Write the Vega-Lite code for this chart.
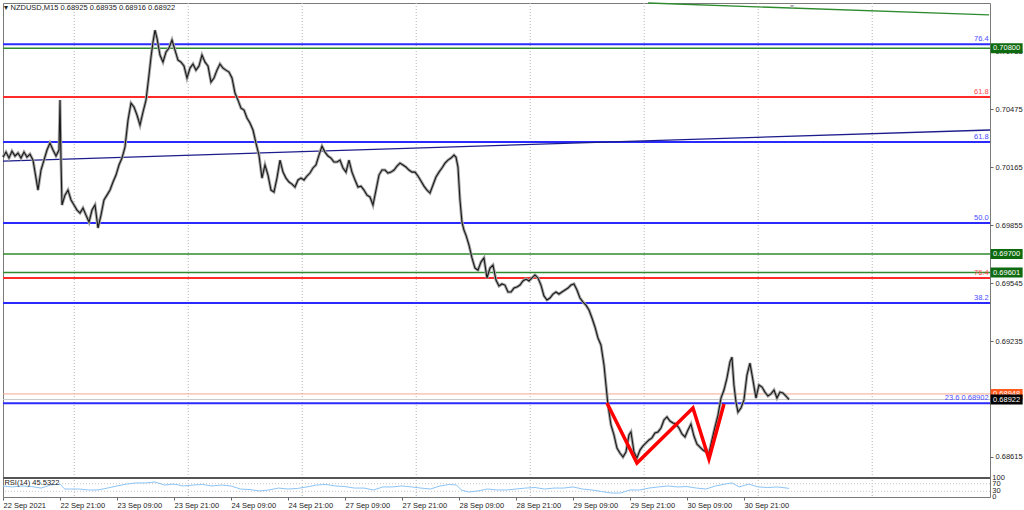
{
"$schema": "https://vega.github.io/schema/vega-lite/v6.json",
"autosize": {"type": "none"},
"width": 987, "height": 494,
"padding": {"left": 3, "top": 3, "right": 34, "bottom": 13},
"background": "white",
"config": {"view": {"stroke": "#7a7a7a", "strokeWidth": 1}, "font": "Liberation Sans",
  "axis": {"labelFont": "Liberation Sans", "labelFontSize": 7.5, "labelColor": "#222", "tickColor": "#666", "domain": false, "grid": false}},
"datasets": {
"grid": [{"h":15},{"h":39},{"h":63},{"h":87},{"h":111},{"h":135},{"h":159},{"h":183}],
"levels": [
 {"p":0.70822,"kind":"fib_blue","label":"76.4"},
 {"p":0.70539,"kind":"fib_red","label":"61.8"},
 {"p":0.70299,"kind":"fib_blue","label":"61.8"},
 {"p":0.69866,"kind":"fib_blue","label":"50.0"},
 {"p":0.69572,"kind":"fib_red","label":"76.4"},
 {"p":0.69438,"kind":"fib_blue","label":"38.2"},
 {"p":0.68902,"kind":"fib_blue","label":"23.6 0.68902"},
 {"p":0.70800,"kind":"green","label":""},
 {"p":0.69700,"kind":"green","label":""},
 {"p":0.69601,"kind":"green","label":""},
 {"p":0.68952,"kind":"ask","label":""},
 {"p":0.68922,"kind":"bid","label":""}
],
"boxes": [
 {"p":0.70800,"kind":"green","label":"0.70800"},
 {"p":0.69700,"kind":"green","label":"0.69700"},
 {"p":0.69601,"kind":"green","label":"0.69601"},
 {"p":0.68952,"kind":"ask","label":"0.68948"},
 {"p":0.68922,"kind":"bid","label":"0.68922"}
],
"notes": [
 {"id":"title","h":0.3,"p":0.71015,"label":"▾  NZDUSD,M15  0.68925 0.68935 0.68916 0.68922"},
 {"id":"marker","h":166.1,"p":0.71042,"label":"▼"}
],
"rsinote": [{"h":0.3,"r":76,"label":"RSI(14) 45.5322"}],
"rsilev": [{"r":30,"label":"30"},{"r":70,"label":"70"},{"r":0,"label":"0"},{"r":100,"label":"100"}],
"trend": [
 {"id":"blue","h":0,"p":0.70197},{"id":"blue","h":207.8,"p":0.70363},
 {"id":"green","h":135.8,"p":0.71042},{"id":"green","h":207.6,"p":0.70978}
],
"zig": [
 {"h":127.16,"p":0.68904},{"h":133.47,"p":0.68583},{"h":145.26,"p":0.68877},{"h":148.63,"p":0.68604},{"h":151.79,"p":0.68898}
],
"price": [
{"h":0,"p":0.70218},{"h":0.63,"p":0.70245},{"h":1.26,"p":0.70213},{"h":1.89,"p":0.7025},{"h":2.53,"p":0.70224},{"h":3.16,"p":0.7024},{"h":3.79,"p":0.70213},{"h":4.42,"p":0.70245},{"h":5.05,"p":0.70218},{"h":5.68,"p":0.70234},{"h":6.32,"p":0.70202},{"h":6.95,"p":0.70106},{"h":7.37,"p":0.70042},{"h":8.0,"p":0.70149},{"h":8.63,"p":0.70202},{"h":9.26,"p":0.70256},{"h":9.89,"p":0.70293},{"h":10.53,"p":0.70256},{"h":11.16,"p":0.70224},{"h":11.79,"p":0.70256},{"h":12.0,"p":0.70523},{"h":12.21,"p":0.70202},{"h":12.42,"p":0.69962},{"h":13.05,"p":0.70015},{"h":13.68,"p":0.70042},{"h":14.32,"p":0.69989},{"h":14.95,"p":0.69962},{"h":15.58,"p":0.69935},{"h":16.21,"p":0.69919},{"h":16.84,"p":0.69946},{"h":17.47,"p":0.69908},{"h":18.11,"p":0.69871},{"h":18.74,"p":0.69935},{"h":19.37,"p":0.69962},{"h":20.0,"p":0.69839},{"h":20.63,"p":0.69908},{"h":21.26,"p":0.69989},{"h":21.89,"p":0.70015},{"h":22.53,"p":0.70042},{"h":23.16,"p":0.70085},{"h":23.79,"p":0.70122},{"h":24.42,"p":0.70176},{"h":25.05,"p":0.70213},{"h":25.68,"p":0.70272},{"h":26.32,"p":0.70416},{"h":26.95,"p":0.70507},{"h":27.58,"p":0.70486},{"h":28.21,"p":0.70443},{"h":28.84,"p":0.70389},{"h":29.47,"p":0.70459},{"h":30.11,"p":0.70523},{"h":30.74,"p":0.70657},{"h":31.16,"p":0.70753},{"h":31.58,"p":0.70833},{"h":32.0,"p":0.70897},{"h":32.42,"p":0.70854},{"h":33.05,"p":0.70764},{"h":33.68,"p":0.70726},{"h":34.32,"p":0.7078},{"h":34.95,"p":0.70801},{"h":35.58,"p":0.70844},{"h":36.21,"p":0.7079},{"h":36.84,"p":0.70737},{"h":37.47,"p":0.70726},{"h":38.11,"p":0.70705},{"h":38.74,"p":0.70641},{"h":39.37,"p":0.70694},{"h":40.0,"p":0.70716},{"h":40.63,"p":0.70683},{"h":41.26,"p":0.70705},{"h":41.89,"p":0.70764},{"h":42.53,"p":0.70726},{"h":43.16,"p":0.70705},{"h":43.79,"p":0.70619},{"h":44.42,"p":0.70641},{"h":45.05,"p":0.70683},{"h":45.68,"p":0.70716},{"h":46.32,"p":0.70694},{"h":46.95,"p":0.70683},{"h":47.58,"p":0.70673},{"h":48.21,"p":0.70641},{"h":48.84,"p":0.70561},{"h":49.47,"p":0.70523},{"h":50.11,"p":0.7048},{"h":50.74,"p":0.7047},{"h":51.37,"p":0.70427},{"h":52.0,"p":0.704},{"h":52.63,"p":0.70363},{"h":53.26,"p":0.70293},{"h":53.89,"p":0.70229},{"h":54.53,"p":0.70106},{"h":55.16,"p":0.70176},{"h":55.79,"p":0.70122},{"h":56.42,"p":0.70042},{"h":57.05,"p":0.70031},{"h":57.68,"p":0.70106},{"h":58.32,"p":0.70202},{"h":58.95,"p":0.70138},{"h":59.58,"p":0.70106},{"h":60.21,"p":0.70085},{"h":60.84,"p":0.70074},{"h":61.47,"p":0.70058},{"h":62.11,"p":0.70096},{"h":62.74,"p":0.70106},{"h":63.37,"p":0.70096},{"h":64.0,"p":0.70117},{"h":64.63,"p":0.70133},{"h":65.26,"p":0.7016},{"h":65.89,"p":0.70176},{"h":66.53,"p":0.70229},{"h":67.16,"p":0.70277},{"h":67.79,"p":0.70245},{"h":68.42,"p":0.70224},{"h":69.05,"p":0.70213},{"h":69.68,"p":0.70192},{"h":70.32,"p":0.70192},{"h":70.95,"p":0.70202},{"h":71.58,"p":0.7016},{"h":72.21,"p":0.70138},{"h":72.84,"p":0.70202},{"h":73.47,"p":0.70138},{"h":74.11,"p":0.70096},{"h":74.74,"p":0.70058},{"h":75.37,"p":0.70063},{"h":76.0,"p":0.70042},{"h":76.63,"p":0.70015},{"h":77.26,"p":0.70005},{"h":77.89,"p":0.69962},{"h":78.53,"p":0.70042},{"h":79.16,"p":0.70122},{"h":79.79,"p":0.70149},{"h":80.42,"p":0.70149},{"h":81.05,"p":0.70133},{"h":81.68,"p":0.70138},{"h":82.32,"p":0.70149},{"h":82.95,"p":0.7017},{"h":83.58,"p":0.70186},{"h":84.21,"p":0.70176},{"h":84.84,"p":0.70165},{"h":85.47,"p":0.70149},{"h":86.11,"p":0.70138},{"h":86.74,"p":0.70138},{"h":87.37,"p":0.70117},{"h":88.0,"p":0.7009},{"h":88.63,"p":0.70063},{"h":89.26,"p":0.70042},{"h":89.89,"p":0.70026},{"h":90.53,"p":0.70069},{"h":91.16,"p":0.70112},{"h":91.79,"p":0.70138},{"h":92.42,"p":0.7016},{"h":93.05,"p":0.70186},{"h":93.68,"p":0.70202},{"h":94.32,"p":0.70213},{"h":94.95,"p":0.70229},{"h":95.37,"p":0.70218},{"h":95.79,"p":0.70165},{"h":96.21,"p":0.69989},{"h":96.63,"p":0.69871},{"h":97.05,"p":0.69828},{"h":97.47,"p":0.69801},{"h":98.11,"p":0.69748},{"h":98.74,"p":0.69679},{"h":99.37,"p":0.69625},{"h":100.0,"p":0.69614},{"h":100.63,"p":0.69657},{"h":101.26,"p":0.69679},{"h":101.89,"p":0.69572},{"h":102.53,"p":0.69625},{"h":103.16,"p":0.69641},{"h":103.79,"p":0.69561},{"h":104.42,"p":0.69529},{"h":105.05,"p":0.6954},{"h":105.68,"p":0.69534},{"h":106.32,"p":0.69497},{"h":106.95,"p":0.69497},{"h":107.58,"p":0.69518},{"h":108.21,"p":0.69524},{"h":108.84,"p":0.69534},{"h":109.47,"p":0.69556},{"h":110.11,"p":0.69566},{"h":110.74,"p":0.69556},{"h":111.37,"p":0.69572},{"h":112.0,"p":0.69588},{"h":112.63,"p":0.69572},{"h":113.26,"p":0.69534},{"h":113.89,"p":0.69476},{"h":114.53,"p":0.69454},{"h":115.16,"p":0.69465},{"h":115.79,"p":0.69486},{"h":116.42,"p":0.69497},{"h":117.05,"p":0.69486},{"h":117.68,"p":0.69497},{"h":118.32,"p":0.69508},{"h":118.95,"p":0.69518},{"h":119.58,"p":0.69534},{"h":120.21,"p":0.6954},{"h":120.84,"p":0.69508},{"h":121.47,"p":0.69465},{"h":122.11,"p":0.69443},{"h":122.74,"p":0.69427},{"h":123.37,"p":0.69401},{"h":124.0,"p":0.69358},{"h":124.63,"p":0.6931},{"h":125.26,"p":0.69251},{"h":125.89,"p":0.69214},{"h":126.53,"p":0.69107},{"h":126.95,"p":0.69},{"h":127.37,"p":0.68893},{"h":128.0,"p":0.68786},{"h":128.63,"p":0.68733},{"h":129.26,"p":0.68663},{"h":129.89,"p":0.68636},{"h":130.53,"p":0.68615},{"h":131.16,"p":0.68642},{"h":131.79,"p":0.68733},{"h":132.21,"p":0.68749},{"h":132.84,"p":0.68642},{"h":133.47,"p":0.6861},{"h":134.11,"p":0.68652},{"h":134.74,"p":0.68674},{"h":135.37,"p":0.6869},{"h":136.0,"p":0.68706},{"h":136.63,"p":0.68717},{"h":137.26,"p":0.68743},{"h":137.89,"p":0.68749},{"h":138.53,"p":0.6877},{"h":139.16,"p":0.68813},{"h":139.79,"p":0.68829},{"h":140.42,"p":0.68807},{"h":141.05,"p":0.68797},{"h":141.68,"p":0.68791},{"h":142.32,"p":0.6877},{"h":142.95,"p":0.68738},{"h":143.58,"p":0.68722},{"h":144.21,"p":0.68759},{"h":144.84,"p":0.68791},{"h":145.47,"p":0.68727},{"h":146.11,"p":0.68684},{"h":146.74,"p":0.68668},{"h":147.37,"p":0.68652},{"h":148.0,"p":0.68642},{"h":148.63,"p":0.68636},{"h":149.26,"p":0.68706},{"h":149.89,"p":0.68775},{"h":150.53,"p":0.68839},{"h":151.16,"p":0.6893},{"h":151.79,"p":0.68973},{"h":152.42,"p":0.69037},{"h":153.05,"p":0.69123},{"h":153.47,"p":0.69149},{"h":153.89,"p":0.69},{"h":154.32,"p":0.68909},{"h":154.74,"p":0.68855},{"h":155.37,"p":0.68877},{"h":156.0,"p":0.6892},{"h":156.63,"p":0.69053},{"h":157.26,"p":0.69117},{"h":157.89,"p":0.69026},{"h":158.53,"p":0.6893},{"h":159.16,"p":0.69},{"h":159.79,"p":0.68989},{"h":160.42,"p":0.68962},{"h":161.05,"p":0.68941},{"h":161.68,"p":0.68952},{"h":162.32,"p":0.68973},{"h":162.95,"p":0.6893},{"h":163.58,"p":0.68962},{"h":164.21,"p":0.68957},{"h":164.84,"p":0.68941},{"h":165.47,"p":0.68922}
],
"rsi": [
{"h":0,"r":58},{"h":2,"r":53},{"h":4,"r":58},{"h":6,"r":55},{"h":8,"r":47},{"h":10,"r":63},{"h":12,"r":68},{"h":13,"r":42},{"h":14,"r":42},{"h":16,"r":42},{"h":18,"r":37},{"h":20,"r":37},{"h":22,"r":47},{"h":24,"r":58},{"h":26,"r":68},{"h":28,"r":74},{"h":30,"r":74},{"h":32,"r":79},{"h":34,"r":63},{"h":36,"r":68},{"h":38,"r":58},{"h":40,"r":63},{"h":42,"r":66},{"h":44,"r":58},{"h":46,"r":63},{"h":48,"r":58},{"h":50,"r":42},{"h":52,"r":39},{"h":54,"r":32},{"h":56,"r":37},{"h":58,"r":47},{"h":60,"r":42},{"h":62,"r":45},{"h":64,"r":53},{"h":66,"r":63},{"h":68,"r":66},{"h":70,"r":58},{"h":72,"r":55},{"h":74,"r":47},{"h":76,"r":47},{"h":78,"r":37},{"h":80,"r":53},{"h":82,"r":53},{"h":84,"r":58},{"h":86,"r":53},{"h":88,"r":47},{"h":90,"r":42},{"h":92,"r":58},{"h":94,"r":66},{"h":95.5,"r":63},{"h":96.5,"r":37},{"h":98,"r":26},{"h":100,"r":32},{"h":102,"r":42},{"h":104,"r":37},{"h":106,"r":37},{"h":108,"r":42},{"h":110,"r":47},{"h":112,"r":50},{"h":114,"r":42},{"h":116,"r":47},{"h":118,"r":47},{"h":120,"r":53},{"h":122,"r":42},{"h":124,"r":37},{"h":126,"r":29},{"h":128,"r":21},{"h":130,"r":21},{"h":132,"r":37},{"h":134,"r":37},{"h":136,"r":47},{"h":138,"r":53},{"h":140,"r":58},{"h":142,"r":53},{"h":144,"r":55},{"h":146,"r":47},{"h":148,"r":42},{"h":150,"r":58},{"h":152,"r":68},{"h":153.5,"r":74},{"h":155,"r":53},{"h":157,"r":68},{"h":159,"r":53},{"h":161,"r":50},{"h":163,"r":53},{"h":165.5,"r":45.5}
]
},
"resolve": {"scale": {"y": "independent"}},
"layer": [
{
 "layer": [
  {"data": {"name": "grid"}, "mark": {"type": "rule", "color": "#b4b4b4", "strokeDash": [1, 2], "strokeWidth": 1},
   "encoding": {"x": {"field": "h", "type": "quantitative", "scale": {"domain": [0, 207.8], "nice": false, "zero": false},
      "axis": {"orient": "bottom", "values": [0, 12, 24, 36, 48, 60, 72, 84, 96, 108, 120, 132, 144, 156], "title": null,
        "labelExpr": "['22 Sep 2021','22 Sep 21:00','23 Sep 09:00','23 Sep 21:00','24 Sep 09:00','24 Sep 21:00','27 Sep 09:00','27 Sep 21:00','28 Sep 09:00','28 Sep 21:00','29 Sep 09:00','29 Sep 21:00','30 Sep 09:00','30 Sep 21:00'][round(datum.value / 12)]",
        "labelAlign": "left", "labelBound": false, "labelFlush": false, "labelOverlap": false, "tickSize": 3, "labelPadding": 1}}}},
  {"data": {"name": "levels"}, "transform": [{"filter": "datum.kind == 'green'"}],
   "mark": {"type": "rule", "color": "#2e8b2e", "strokeWidth": 1.5},
   "encoding": {"y": {"field": "p", "type": "quantitative", "title": null, "scale": {"domain": [0.68508, 0.71042], "nice": false, "zero": false, "range": [474, 0]},
     "axis": {"orient": "right", "values": [0.7094, 0.70785, 0.7063, 0.70475, 0.7032, 0.70165, 0.7001, 0.69855, 0.697, 0.69545, 0.6939, 0.69235, 0.6908, 0.68925, 0.6877, 0.68615],
       "labelExpr": "format(datum.value, '.5f')", "tickSize": 3, "labelPadding": 2, "title": null}}}},
  {"data": {"name": "levels"}, "transform": [{"filter": "datum.kind == 'ask'"}],
   "mark": {"type": "rule", "strokeWidth": 1, "color": "#f6a88e"},
   "encoding": {"y": {"field": "p", "type": "quantitative", "title": null, "scale": {"domain": [0.68508, 0.71042], "nice": false, "zero": false, "range": [474, 0]}}}},
  {"data": {"name": "levels"}, "transform": [{"filter": "datum.kind == 'bid'"}],
   "mark": {"type": "rule", "strokeWidth": 1, "color": "#c8c8c8"},
   "encoding": {"y": {"field": "p", "type": "quantitative", "title": null, "scale": {"domain": [0.68508, 0.71042], "nice": false, "zero": false, "range": [474, 0]}}}},
  {"data": {"name": "levels"}, "transform": [{"filter": "datum.kind == 'fib_blue'"}],
   "mark": {"type": "rule", "strokeWidth": 2, "color": "#2a2aff"},
   "encoding": {"y": {"field": "p", "type": "quantitative", "title": null, "scale": {"domain": [0.68508, 0.71042], "nice": false, "zero": false, "range": [474, 0]}}}},
  {"data": {"name": "levels"}, "transform": [{"filter": "datum.kind == 'fib_red'"}],
   "mark": {"type": "rule", "strokeWidth": 2, "color": "#ff2a2a"},
   "encoding": {"y": {"field": "p", "type": "quantitative", "title": null, "scale": {"domain": [0.68508, 0.71042], "nice": false, "zero": false, "range": [474, 0]}}}},
  {"data": {"name": "trend"}, "transform": [{"filter": "datum.id == 'blue'"}],
   "mark": {"type": "line", "color": "#1c1c8c", "strokeWidth": 1.3},
   "encoding": {"x": {"field": "h", "type": "quantitative"},
     "y": {"field": "p", "type": "quantitative", "title": null, "scale": {"domain": [0.68508, 0.71042], "nice": false, "zero": false, "range": [474, 0]}}}},
  {"data": {"name": "trend"}, "transform": [{"filter": "datum.id == 'green'"}],
   "mark": {"type": "line", "color": "#2e8b2e", "strokeWidth": 1.3},
   "encoding": {"x": {"field": "h", "type": "quantitative"},
     "y": {"field": "p", "type": "quantitative", "title": null, "scale": {"domain": [0.68508, 0.71042], "nice": false, "zero": false, "range": [474, 0]}}}},
  {"data": {"name": "price"},
   "mark": {"type": "line", "color": "#a6a6a6", "strokeWidth": 3},
   "encoding": {"x": {"field": "h", "type": "quantitative"},
     "y": {"field": "p", "type": "quantitative", "title": null, "scale": {"domain": [0.68508, 0.71042], "nice": false, "zero": false, "range": [474, 0]}}}},
  {"data": {"name": "price"},
   "mark": {"type": "line", "color": "#1a1a1a", "strokeWidth": 1.1},
   "encoding": {"x": {"field": "h", "type": "quantitative"},
     "y": {"field": "p", "type": "quantitative", "title": null, "scale": {"domain": [0.68508, 0.71042], "nice": false, "zero": false, "range": [474, 0]}}}},
  {"data": {"name": "zig"},
   "mark": {"type": "line", "color": "#ff0000", "strokeWidth": 3.5, "strokeJoin": "miter"},
   "encoding": {"x": {"field": "h", "type": "quantitative"},
     "y": {"field": "p", "type": "quantitative", "title": null, "scale": {"domain": [0.68508, 0.71042], "nice": false, "zero": false, "range": [474, 0]}}}},
  {"data": {"name": "levels"}, "transform": [{"filter": "datum.kind == 'fib_blue'"}],
   "mark": {"type": "text", "align": "right", "baseline": "bottom", "dy": -1, "fontSize": 7.5, "color": "#4a4aff"},
   "encoding": {"x": {"datum": 207.5, "type": "quantitative"},
     "y": {"field": "p", "type": "quantitative", "title": null, "scale": {"domain": [0.68508, 0.71042], "nice": false, "zero": false, "range": [474, 0]}},
     "text": {"field": "label"}}},
  {"data": {"name": "levels"}, "transform": [{"filter": "datum.kind == 'fib_red'"}],
   "mark": {"type": "text", "align": "right", "baseline": "bottom", "dy": -1, "fontSize": 7.5, "color": "#ff4a4a"},
   "encoding": {"x": {"datum": 207.5, "type": "quantitative"},
     "y": {"field": "p", "type": "quantitative", "title": null, "scale": {"domain": [0.68508, 0.71042], "nice": false, "zero": false, "range": [474, 0]}},
     "text": {"field": "label"}}},
  {"data": {"name": "boxes"}, "transform": [{"filter": "datum.kind == 'green'"}],
   "mark": {"type": "tick", "orient": "horizontal", "thickness": 10, "size": 32, "color": "#0e6a0e", "opacity": 1},
   "encoding": {"x": {"datum": 211.3, "type": "quantitative"},
     "y": {"field": "p", "type": "quantitative", "title": null, "scale": {"domain": [0.68508, 0.71042], "nice": false, "zero": false, "range": [474, 0]}}}},
  {"data": {"name": "boxes"}, "transform": [{"filter": "datum.kind == 'ask'"}],
   "mark": {"type": "tick", "orient": "horizontal", "thickness": 10, "size": 32, "color": "#ff5a1e", "opacity": 1},
   "encoding": {"x": {"datum": 211.3, "type": "quantitative"},
     "y": {"field": "p", "type": "quantitative", "title": null, "scale": {"domain": [0.68508, 0.71042], "nice": false, "zero": false, "range": [474, 0]}}}},
  {"data": {"name": "boxes"}, "transform": [{"filter": "datum.kind == 'ask'"}],
   "mark": {"type": "text", "align": "center", "baseline": "middle", "fontSize": 7.5, "color": "white"},
   "encoding": {"x": {"datum": 211.3, "type": "quantitative"},
     "y": {"field": "p", "type": "quantitative", "title": null, "scale": {"domain": [0.68508, 0.71042], "nice": false, "zero": false, "range": [474, 0]}},
     "text": {"field": "label"}}},
  {"data": {"name": "boxes"}, "transform": [{"filter": "datum.kind == 'bid'"}],
   "mark": {"type": "tick", "orient": "horizontal", "thickness": 10, "size": 32, "color": "#000000", "opacity": 1},
   "encoding": {"x": {"datum": 211.3, "type": "quantitative"},
     "y": {"field": "p", "type": "quantitative", "title": null, "scale": {"domain": [0.68508, 0.71042], "nice": false, "zero": false, "range": [474, 0]}}}},
  {"data": {"name": "boxes"}, "transform": [{"filter": "datum.kind != 'ask'"}],
   "mark": {"type": "text", "align": "center", "baseline": "middle", "fontSize": 7.5, "color": "white"},
   "encoding": {"x": {"datum": 211.3, "type": "quantitative"},
     "y": {"field": "p", "type": "quantitative", "title": null, "scale": {"domain": [0.68508, 0.71042], "nice": false, "zero": false, "range": [474, 0]}},
     "text": {"field": "label"}}},
  {"data": {"name": "notes"}, "transform": [{"filter": "datum.id == 'title'"}],
   "mark": {"type": "text", "align": "left", "baseline": "middle", "fontSize": 7.5, "color": "#222"},
   "encoding": {"x": {"field": "h", "type": "quantitative"},
     "y": {"field": "p", "type": "quantitative", "title": null, "scale": {"domain": [0.68508, 0.71042], "nice": false, "zero": false, "range": [474, 0]}},
     "text": {"field": "label"}}},
  {"data": {"name": "notes"}, "transform": [{"filter": "datum.id == 'marker'"}],
   "mark": {"type": "text", "align": "center", "baseline": "top", "fontSize": 7, "color": "#b0b0b0"},
   "encoding": {"x": {"field": "h", "type": "quantitative"},
     "y": {"field": "p", "type": "quantitative", "title": null, "scale": {"domain": [0.68508, 0.71042], "nice": false, "zero": false, "range": [474, 0]}},
     "text": {"field": "label"}}}
 ]
},
{
 "layer": [
  {"data": {"name": "rsilev"}, "transform": [{"filter": "datum.r == 30 || datum.r == 70"}],
   "mark": {"type": "rule", "color": "#c8c8c8", "strokeDash": [1, 2], "strokeWidth": 1},
   "encoding": {"y": {"field": "r", "type": "quantitative", "scale": {"domain": [0, 100], "nice": false, "zero": false, "range": [494, 475]}, "axis": null}}},
  {"data": {"name": "rsilev"}, "transform": [{"filter": "datum.r == 100"}],
   "mark": {"type": "rule", "color": "#555555", "strokeWidth": 2},
   "encoding": {"y": {"field": "r", "type": "quantitative", "scale": {"domain": [0, 100], "nice": false, "zero": false, "range": [494, 475]}, "axis": null}}},
  {"data": {"name": "rsi"},
   "mark": {"type": "line", "color": "#8cc4f4", "strokeWidth": 1},
   "encoding": {"x": {"field": "h", "type": "quantitative"},
     "y": {"field": "r", "type": "quantitative", "scale": {"domain": [0, 100], "nice": false, "zero": false, "range": [494, 475]}, "axis": null}}},
  {"data": {"name": "rsinote"},
   "mark": {"type": "text", "align": "left", "baseline": "middle", "fontSize": 7.5, "color": "#222"},
   "encoding": {"x": {"field": "h", "type": "quantitative"},
     "y": {"field": "r", "type": "quantitative", "scale": {"domain": [0, 100], "nice": false, "zero": false, "range": [494, 475]}, "axis": null},
     "text": {"field": "label"}}},
  {"data": {"name": "rsilev"},
   "mark": {"type": "text", "align": "left", "baseline": "middle", "fontSize": 7.5, "color": "#222"},
   "encoding": {"x": {"datum": 208.3, "type": "quantitative"},
     "y": {"field": "r", "type": "quantitative", "scale": {"domain": [0, 100], "nice": false, "zero": false, "range": [494, 475]}, "axis": null},
     "text": {"field": "label"}}}
 ]
}
]
}
